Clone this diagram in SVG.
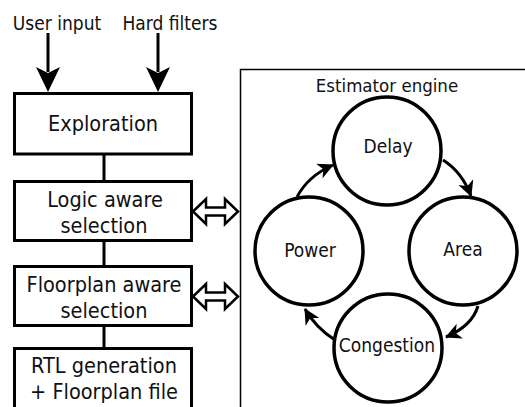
<svg xmlns="http://www.w3.org/2000/svg" width="525" height="407" viewBox="0 0 525 407">
  <style>
    text { font-family: "DejaVu Sans Condensed", "DejaVu Sans", Verdana, sans-serif; font-stretch: condensed; fill: #111; text-anchor: middle; }
    .box { fill: #fff; stroke: #000; stroke-width: 3; }
    .lbl { font-size: 21.5px; }
    .in { font-size: 19px; }
    .circ { fill: #fff; stroke: #000; stroke-width: 3.5; }
    .ctext { font-size: 19px; }
    .wire { fill: none; stroke: #000; stroke-width: 3; }
    .dbl { fill: #fff; stroke: #000; stroke-width: 2.5; stroke-linejoin: miter; }
  </style>
  <defs>
    <marker id="head" markerUnits="userSpaceOnUse" markerWidth="18" markerHeight="16" refX="15" refY="8" orient="auto">
      <path d="M0,0 L16,8 L0,16 L4.5,8 z" fill="#000"/>
    </marker>
  </defs>
  <rect width="525" height="407" fill="#fff"/>

  <!-- inputs -->
  <text class="in" x="57" y="30">User input</text>
  <text class="in" x="170" y="30">Hard filters</text>

  <!-- estimator container -->
  <g id="estimator">
    <rect x="240.5" y="69.5" width="300" height="400" fill="none" stroke="#000" stroke-width="1.5"/>
    <text x="387" y="92" style="font-size:18.5px">Estimator engine</text>
  </g>

  <!-- connectors -->
  <g id="connectors">
    <line class="wire" x1="48" y1="33" x2="48" y2="72"/>
    <path d="M36,67 L48,73 L60,67 L48,92 z" fill="#000"/>
    <line class="wire" x1="158" y1="33" x2="158" y2="72"/>
    <path d="M146,67 L158,73 L170,67 L158,92 z" fill="#000"/>
    <line class="wire" x1="104" y1="153" x2="104" y2="183"/>
    <line class="wire" x1="104" y1="240" x2="104" y2="268"/>
    <line class="wire" x1="104" y1="325" x2="104" y2="350"/>
    <polygon class="dbl" points="193,211.5 206,199 206,207.5 225,207.5 225,199 238,211.5 225,224 225,215.5 206,215.5 206,224"/>
    <polygon class="dbl" points="193,296.5 206,284 206,292.5 225,292.5 225,284 238,296.5 225,309 225,300.5 206,300.5 206,309"/>
    <path class="wire" d="M297,197 Q308,176 333,165" marker-end="url(#head)"/>
    <path class="wire" d="M443,160 Q462,172 471,196" marker-end="url(#head)"/>
    <path class="wire" d="M478,306 Q472,326 446,337" marker-end="url(#head)"/>
    <path class="wire" d="M335,340 Q316,328 305,309" marker-end="url(#head)"/>
  </g>

  <!-- flow boxes -->
  <g id="exploration">
    <rect class="box" x="14.5" y="93.5" width="177" height="60.5"/>
    <text class="lbl" x="103" y="131">Exploration</text>
  </g>
  <g id="logic-aware">
    <rect class="box" x="14.5" y="181.5" width="177" height="59"/>
    <text class="lbl" x="105" y="207">Logic aware</text>
    <text class="lbl" x="104" y="233">selection</text>
  </g>
  <g id="floorplan-aware">
    <rect class="box" x="14.5" y="266.5" width="177" height="59"/>
    <text class="lbl" x="104" y="292">Floorplan aware</text>
    <text class="lbl" x="104" y="318">selection</text>
  </g>
  <g id="rtl-generation">
    <rect class="box" x="14.5" y="348.5" width="177" height="80"/>
    <text class="lbl" x="104" y="373">RTL generation</text>
    <text class="lbl" x="104" y="399">+ Floorplan file</text>
  </g>

  <!-- estimator metrics -->
  <g id="delay">
    <circle class="circ" cx="387" cy="151" r="54"/>
    <text class="ctext" x="388" y="153">Delay</text>
  </g>
  <g id="power">
    <circle class="circ" cx="309" cy="251" r="54"/>
    <text class="ctext" x="310" y="257">Power</text>
  </g>
  <g id="area">
    <circle class="circ" cx="463" cy="251" r="54"/>
    <text class="ctext" x="463" y="256">Area</text>
  </g>
  <g id="congestion">
    <circle class="circ" cx="388" cy="348" r="54"/>
    <text class="ctext" x="387" y="352">Congestion</text>
  </g>
</svg>
